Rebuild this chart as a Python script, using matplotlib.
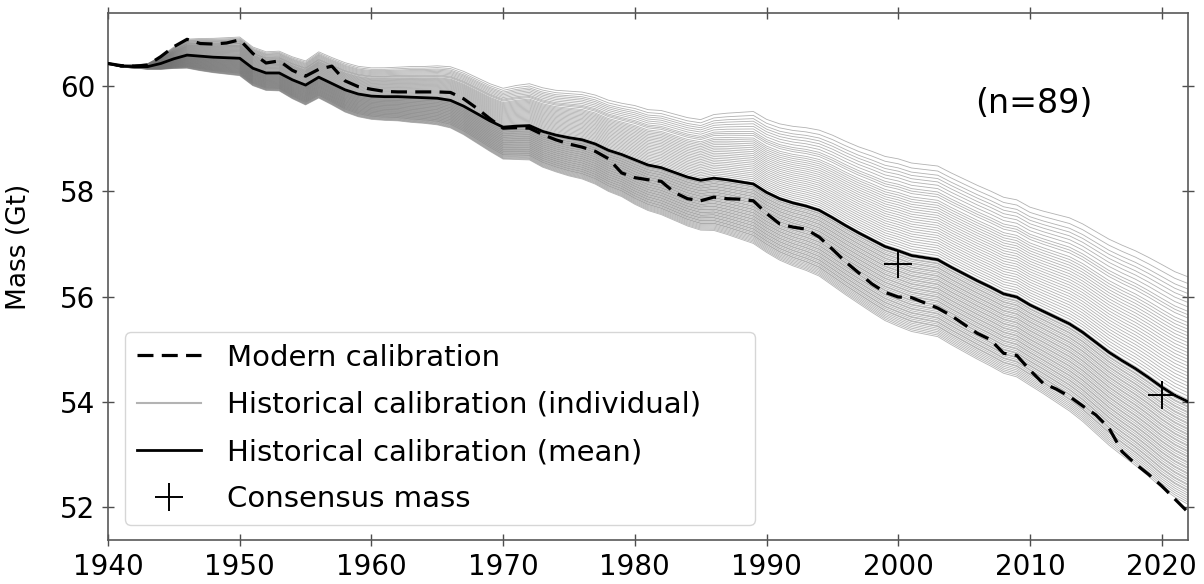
import numpy as np
import matplotlib.pyplot as plt
from matplotlib.lines import Line2D

years = np.arange(1940, 2023)

# Mean of the historical calibrations (Gt)
mean_mass = [
    60.43, 60.38, 60.37, 60.37, 60.43, 60.52, 60.59, 60.57, 60.55, 60.54,
    60.53, 60.34, 60.25, 60.25, 60.12, 60.02, 60.17, 60.05, 59.93, 59.85,
    59.81, 59.80, 59.80, 59.79, 59.78, 59.77, 59.73, 59.62, 59.48, 59.34,
    59.22, 59.24, 59.25, 59.14, 59.07, 59.02, 58.98, 58.90, 58.78, 58.70,
    58.60, 58.50, 58.45, 58.36, 58.27, 58.21, 58.25, 58.22, 58.18, 58.14,
    57.98, 57.86, 57.78, 57.72, 57.64, 57.50, 57.35, 57.21, 57.08, 56.95,
    56.87, 56.78, 56.74, 56.70, 56.56, 56.43, 56.30, 56.18, 56.05, 55.99,
    55.84, 55.72, 55.60, 55.48, 55.32, 55.13, 54.94, 54.78, 54.63, 54.46,
    54.28, 54.12, 54.00,
]

# Modern calibration (Gt)
modern_mass = [
    60.43, 60.39, 60.38, 60.40, 60.56, 60.75, 60.89, 60.81, 60.80, 60.82,
    60.88, 60.62, 60.44, 60.48, 60.30, 60.19, 60.32, 60.38, 60.10, 59.99,
    59.94, 59.90, 59.89, 59.89, 59.89, 59.89, 59.88, 59.76, 59.58, 59.38,
    59.20, 59.21, 59.20, 59.08, 58.98, 58.90, 58.84, 58.76, 58.62, 58.35,
    58.26, 58.22, 58.19, 57.98, 57.86, 57.82, 57.89, 57.86, 57.85, 57.82,
    57.58, 57.38, 57.32, 57.28, 57.13, 56.90, 56.66, 56.45, 56.24, 56.08,
    55.99, 55.98, 55.88, 55.78, 55.64, 55.47, 55.30, 55.18, 54.92, 54.88,
    54.60, 54.35, 54.24, 54.10, 53.92, 53.75, 53.50, 53.05, 52.82, 52.62,
    52.40, 52.15, 51.90,
]

# Half-width of the bundle of individual calibrations per year (Gt)
spread = [
    0.00, 0.02, 0.03, 0.05, 0.12, 0.20, 0.27, 0.30, 0.32, 0.34,
    0.36, 0.36, 0.36, 0.37, 0.39, 0.41, 0.43, 0.44, 0.46, 0.47,
    0.48, 0.49, 0.50, 0.52, 0.53, 0.55, 0.57, 0.59, 0.61, 0.63,
    0.66, 0.69, 0.71, 0.74, 0.76, 0.79, 0.81, 0.83, 0.85, 0.87,
    0.92, 0.94, 0.97, 0.99, 1.01, 1.03, 1.08, 1.13, 1.18, 1.23,
    1.24, 1.27, 1.30, 1.33, 1.36, 1.40, 1.43, 1.46, 1.50, 1.53,
    1.56, 1.57, 1.58, 1.59, 1.60, 1.61, 1.62, 1.63, 1.64, 1.65,
    1.66, 1.70, 1.75, 1.80, 1.84, 1.88, 1.92, 1.96, 2.00, 2.04,
    2.08, 2.10, 2.12,
]

# Relative position of each of the 89 historical calibrations in the bundle
line_offsets = [
    1.12, 1.06, 1.01, 0.97, 0.93, 0.89, 0.85, 0.81, 0.78, 0.75,
    0.71, 0.68, 0.65, 0.62, 0.59, 0.56, 0.53, 0.50, 0.47, 0.44,
    0.41, 0.38, 0.35, 0.32, 0.29, 0.26, 0.23, 0.20, 0.17, 0.14,
    0.11, 0.08, 0.05, 0.02,
    0.00, -0.02, -0.04, -0.05, -0.07, -0.09, -0.10, -0.12, -0.14, -0.15,
    -0.17, -0.19, -0.20, -0.22, -0.24, -0.25, -0.27, -0.29, -0.30, -0.32,
    -0.34, -0.35, -0.37, -0.39, -0.40, -0.42, -0.44, -0.45, -0.47, -0.49,
    -0.50, -0.52, -0.54, -0.55, -0.57, -0.59, -0.60, -0.62, -0.64, -0.65,
    -0.67, -0.69, -0.70, -0.72, -0.74, -0.75, -0.77, -0.79, -0.80, -0.82,
    -0.84, -0.86, -0.88, -0.90, -0.92,
]

consensus_years = [2000, 2020]
consensus_mass = [56.62, 54.13]

mean_arr = np.array(mean_mass)
spread_arr = np.array(spread)

fig = plt.figure(figsize=(12.04, 5.84), dpi=100)
ax = fig.add_axes([0.0897, 0.0753, 0.897, 0.9024])

# Individual historical calibrations
for k in line_offsets:
    ax.plot(years, mean_arr + k * spread_arr, color='0.45', lw=0.6, alpha=0.55, zorder=1)

ax.plot(years, modern_mass, color='black', lw=2.3, dashes=(5, 2.6), zorder=3)
ax.plot(years, mean_mass, color='black', lw=2.0, zorder=4)
ax.plot(consensus_years, consensus_mass, linestyle='none', marker='+',
        color='black', markersize=20, mew=1.4, zorder=5)

ax.set_xlim(1940, 2022)
ax.set_ylim(51.37, 61.39)
ax.set_xticks(range(1940, 2021, 10))
ax.set_yticks([52, 54, 56, 58, 60])

ax.tick_params(direction='inout', length=8, width=1, color='0.3',
               top=True, right=True, labelsize=20, pad=5)
for spine in ax.spines.values():
    spine.set_color('0.35')
    spine.set_linewidth(1.2)

ax.set_ylabel('Mass (Gt)', fontsize=19)
ax.yaxis.set_label_coords(-0.07, 0.556)

ax.text(0.857, 0.829, '(n=89)', transform=ax.transAxes, fontsize=24,
        ha='center', va='center')

# Legend
legend_handles = [
    Line2D([], [], color='black', lw=2.3, dashes=(5, 2.6), label='Modern calibration'),
    Line2D([], [], color='0.7', lw=1.5, label='Historical calibration (individual)'),
    Line2D([], [], color='black', lw=2.0, label='Historical calibration (mean)'),
    Line2D([], [], color='black', linestyle='none', marker='+', markersize=20,
           mew=1.4, label='Consensus mass'),
]
ax.legend(handles=legend_handles, loc='lower left', mode='expand',
          bbox_to_anchor=(0.0157, 0.0285, 0.583, 0.37), borderaxespad=0,
          fontsize=21, handlelength=2.2, handletextpad=0.9, labelspacing=0.66)

plt.savefig('out.png', dpi=100)
plt.close()
